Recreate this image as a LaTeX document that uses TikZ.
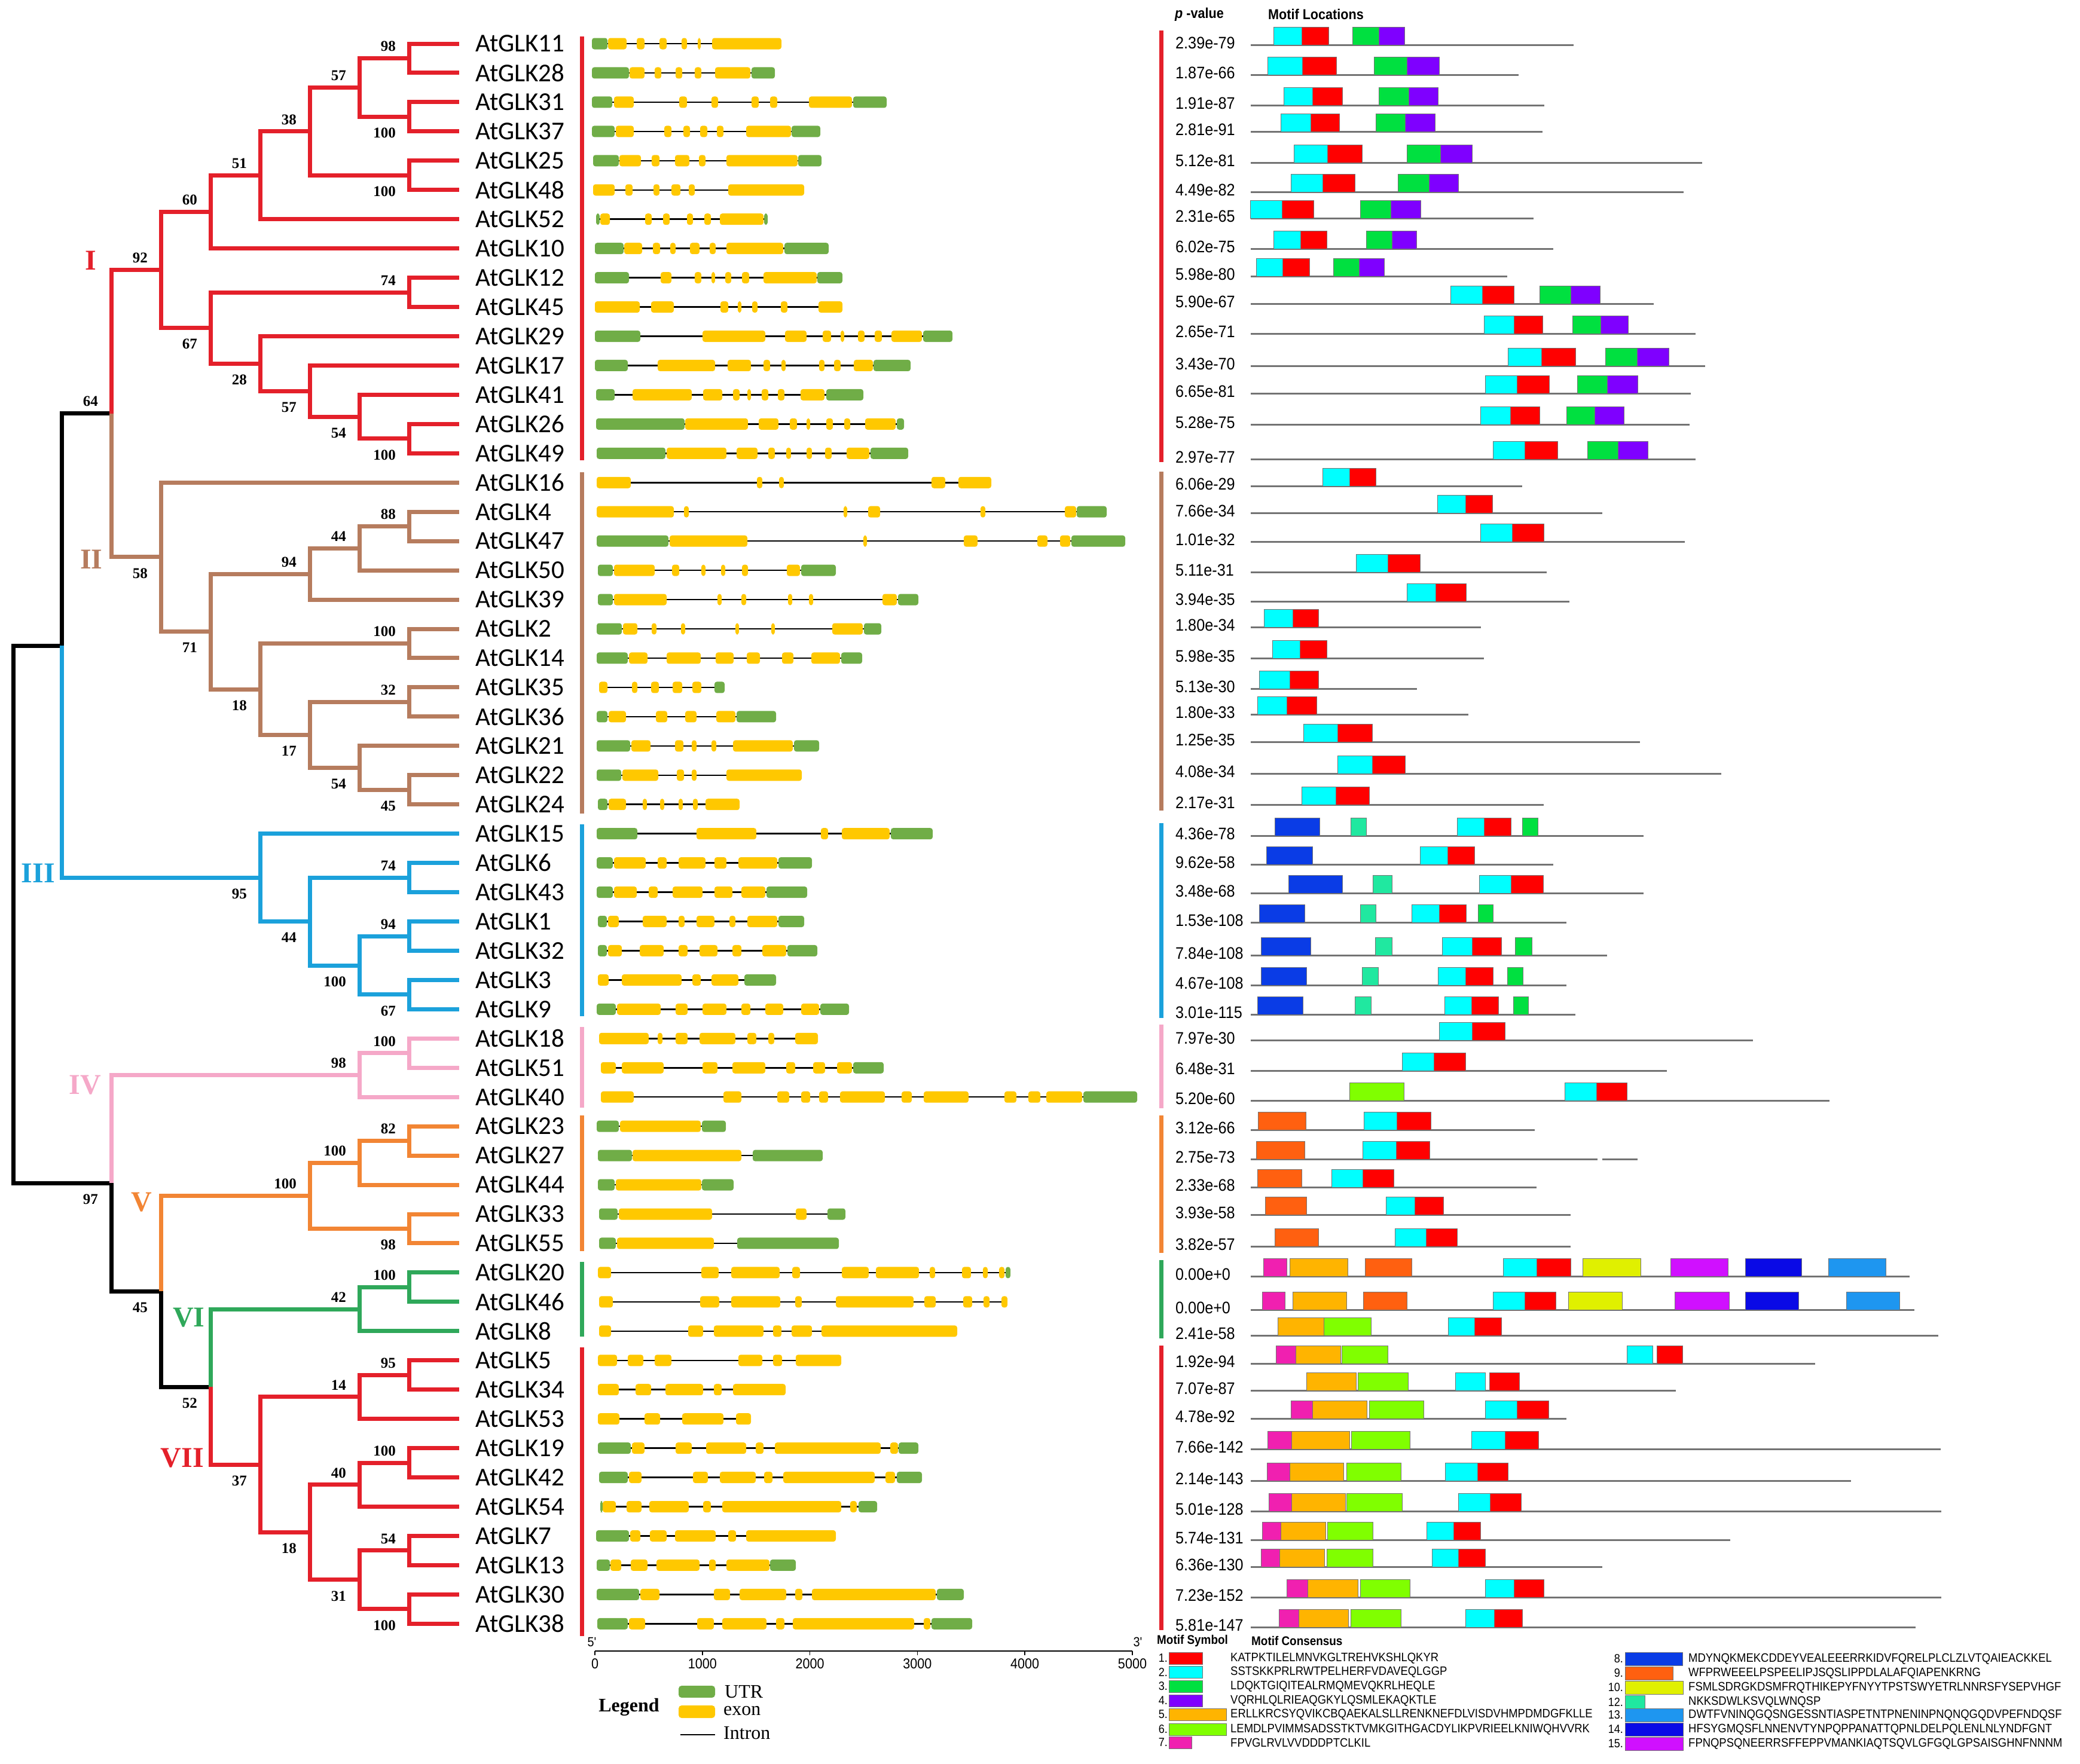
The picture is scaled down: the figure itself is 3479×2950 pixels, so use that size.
\documentclass[tikz,border=0pt]{standalone}
\usepackage{fontspec}
\setmainfont{Liberation Serif}
\newfontfamily\carl{Carlito}
\newfontfamily\nar[FakeStretch=0.9]{Liberation Sans}
\usetikzlibrary{calc}
\definecolor{cI}{HTML}{E4202A}
\definecolor{cII}{HTML}{B67C5E}
\definecolor{cIII}{HTML}{1BA1DB}
\definecolor{cIV}{HTML}{F5A8C8}
\definecolor{cV}{HTML}{F28534}
\definecolor{cVI}{HTML}{2FA85A}
\definecolor{U}{HTML}{70AD47}
\definecolor{E}{HTML}{FFC800}
\definecolor{m1}{HTML}{FF0000}
\definecolor{m2}{HTML}{00FFFF}
\definecolor{m3}{HTML}{00E040}
\definecolor{m4}{HTML}{7F00FF}
\definecolor{m5}{HTML}{FFB400}
\definecolor{m6}{HTML}{80FF00}
\definecolor{m7}{HTML}{F020B0}
\definecolor{m8}{HTML}{0A3CE6}
\definecolor{m9}{HTML}{FF6010}
\definecolor{m10}{HTML}{E0F000}
\definecolor{m12}{HTML}{20E8A0}
\definecolor{m13}{HTML}{1E96F0}
\definecolor{m14}{HTML}{0A0AE6}
\definecolor{m15}{HTML}{D010FF}
\newcommand\gs[4]{%
  \draw[intr] (#2,{73+48.95*#1}) -- (#3,{73+48.95*#1});
  \foreach \ty/\xa/\xb in {#4}{\fill[fill=\ty, rounded corners=4pt] (\xa,{73+48.95*#1-9.5}) rectangle (\xb,{73+48.95*#1+9.5});}}
\newcommand\mr[4]{%
  \draw[mline] (2092,#1) -- (#2,#1);
  \node[pv] at (1966,{#1-3}) {#3};
  \foreach \cc/\xa/\xb in {#4}{\filldraw[fill=\cc, mbox] (\xa,{#1-30}) rectangle (\xb,#1);}}
\newcommand\bsu[2]{\node[bs,anchor=east] at ($(#1)+(-22,-20)$) {#2};}
\newcommand\bsd[2]{\node[bs,anchor=east] at ($(#1)+(-22,27)$) {#2};}
\begin{document}
\begin{tikzpicture}[x=1pt,y=-1pt,
  br/.style={line width=7pt},
  bs/.style={font=\bfseries\fontsize{25}{25}\selectfont, inner sep=0pt},
  gl/.style={font=\carl\fontsize{43}{43}\selectfont, anchor=west, inner sep=0pt},
  cl/.style={font=\bfseries\fontsize{48}{48}\selectfont, inner sep=0pt},
  intr/.style={line width=2.5pt, black},
  mbox/.style={draw=black!55, line width=1pt},
  mline/.style={line width=3pt, color=black!55},
  pv/.style={font=\nar\fontsize{28}{28}\selectfont, inner sep=0pt, anchor=west},
  lt/.style={font=\nar\fontsize{20.5}{20.5}\selectfont, inner sep=0pt, anchor=west},
  bar/.style={line width=7pt}]
\useasboundingbox (0,0) rectangle (3479,2950);
\fill[white] (0,0) rectangle (3479,2950);
% ---------- tree coordinates
\foreach \i in {0,...,54}{\coordinate (L\i) at (768,{73+48.95*\i});}
\coordinate (root) at (22,1529.7);
\coordinate (nA) at (103,1080);
\coordinate (n64) at (186,691.8);
\coordinate (n92) at (269,451.6);
\coordinate (n60) at (352,354.5);
\coordinate (n51) at (435,293.3);
\coordinate (n38) at (518,219.9);
\coordinate (n57a) at (601,146.4);
\coordinate (n98a) at (684,97.5);
\coordinate (n100a) at (684,195.4);
\coordinate (n100b) at (684,293.3);
\coordinate (n67) at (352,548.75);
\coordinate (n74a) at (684,489.1);
\coordinate (n28) at (435,608.4);
\coordinate (n57b) at (518,654.3);
\coordinate (n54a) at (601,697.1);
\coordinate (n100c) at (684,733.8);
\coordinate (n58) at (269,931.9);
\coordinate (n71) at (352,1056.6);
\coordinate (n94a) at (518,960.2);
\coordinate (n44a) at (601,917.4);
\coordinate (n88) at (684,880.7);
\coordinate (n18a) at (435,1153);
\coordinate (n100d) at (684,1076.5);
\coordinate (n17) at (518,1229.5);
\coordinate (n32) at (684,1174.4);
\coordinate (n54b) at (601,1284.5);
\coordinate (n45a) at (684,1321.2);
\coordinate (n95) at (435,1468.1);
\coordinate (n44b) at (518,1541.5);
\coordinate (n74b) at (684,1468.1);
\coordinate (n100e) at (601,1615);
\coordinate (n94b) at (684,1566);
\coordinate (n67b) at (684,1663.9);
\coordinate (n97) at (186,1979.4);
\coordinate (n98b) at (601,1798.5);
\coordinate (n100f) at (684,1761.8);
\coordinate (n45b) at (269,2160.3);
\coordinate (n100h) at (518,2000.4);
\coordinate (n100g) at (601,1945.3);
\coordinate (n82) at (684,1908.6);
\coordinate (n98c) at (684,2055.5);
\coordinate (n52) at (352,2320.1);
\coordinate (n42) at (601,2190.1);
\coordinate (n100i) at (684,2153.4);
\coordinate (n37) at (435,2450.1);
\coordinate (n14) at (601,2336.9);
\coordinate (n95b) at (684,2300.2);
\coordinate (n18b) at (518,2563.4);
\coordinate (n40) at (601,2483.8);
\coordinate (n100j) at (684,2447.1);
\coordinate (n31) at (601,2642.9);
\coordinate (n54c) at (684,2593.9);
\coordinate (n100k) at (684,2691.8);
% ---------- tree branches
\draw[br,black] (root) |- (nA) (root) |- (n97) (nA) |- (n64) (n97) |- (n45b) (n45b) |- (n52);
\draw[br,cI] (n64) |- (n92) (n92) |- (n60) (n92) |- (n67) (n60) |- (n51) (n60) |- (L7)
  (n51) |- (n38) (n51) |- (L6) (n38) |- (n57a) (n38) |- (n100b) (n57a) |- (n98a) (n57a) |- (n100a)
  (n98a) |- (L0) (n98a) |- (L1) (n100a) |- (L2) (n100a) |- (L3) (n100b) |- (L4) (n100b) |- (L5)
  (n67) |- (n74a) (n67) |- (n28) (n74a) |- (L8) (n74a) |- (L9) (n28) |- (L10) (n28) |- (n57b)
  (n57b) |- (L11) (n57b) |- (n54a) (n54a) |- (L12) (n54a) |- (n100c) (n100c) |- (L13) (n100c) |- (L14);
\draw[br,cII] (n64) |- (n58) (n58) |- (L15) (n58) |- (n71) (n71) |- (n94a) (n71) |- (n18a)
  (n94a) |- (n44a) (n94a) |- (L19) (n44a) |- (n88) (n44a) |- (L18) (n88) |- (L16) (n88) |- (L17)
  (n18a) |- (n100d) (n18a) |- (n17) (n100d) |- (L20) (n100d) |- (L21) (n17) |- (n32) (n17) |- (n54b)
  (n32) |- (L22) (n32) |- (L23) (n54b) |- (L24) (n54b) |- (n45a) (n45a) |- (L25) (n45a) |- (L26);
\draw[br,cIII] (nA) |- (n95) (n95) |- (L27) (n95) |- (n44b) (n44b) |- (n74b) (n44b) |- (n100e)
  (n74b) |- (L28) (n74b) |- (L29) (n100e) |- (n94b) (n100e) |- (n67b) (n94b) |- (L30) (n94b) |- (L31)
  (n67b) |- (L32) (n67b) |- (L33);
\draw[br,cIV] (n97) |- (n98b) (n98b) |- (n100f) (n98b) |- (L36) (n100f) |- (L34) (n100f) |- (L35);
\draw[br,cV] (n45b) |- (n100h) (n100h) |- (n100g) (n100h) |- (n98c) (n100g) |- (n82) (n100g) |- (L39)
  (n82) |- (L37) (n82) |- (L38) (n98c) |- (L40) (n98c) |- (L41);
\draw[br,cVI] (n52) |- (n42) (n42) |- (n100i) (n42) |- (L44) (n100i) |- (L42) (n100i) |- (L43);
\draw[br,cI] (n52) |- (n37) (n37) |- (n14) (n37) |- (n18b) (n14) |- (n95b) (n14) |- (L47)
  (n95b) |- (L45) (n95b) |- (L46) (n18b) |- (n40) (n18b) |- (n31) (n40) |- (n100j) (n40) |- (L50)
  (n100j) |- (L48) (n100j) |- (L49) (n31) |- (n54c) (n31) |- (n100k) (n54c) |- (L51) (n54c) |- (L52)
  (n100k) |- (L53) (n100k) |- (L54);
% ---------- bootstrap values
\bsu{n98a}{98}\bsu{n57a}{57}\bsu{n38}{38}\bsu{n51}{51}\bsu{n60}{60}\bsu{n92}{92}\bsu{n64}{64}
\bsu{n74a}{74}\bsu{n88}{88}\bsu{n44a}{44}\bsu{n94a}{94}\bsu{n100d}{100}\bsu{n32}{32}
\bsu{n74b}{74}\bsu{n94b}{94}\bsu{n100f}{100}\bsu{n98b}{98}\bsu{n82}{82}\bsu{n100g}{100}
\bsu{n100h}{100}\bsu{n100i}{100}\bsu{n42}{42}\bsu{n95b}{95}\bsu{n14}{14}\bsu{n40}{40}
\bsu{n100j}{100}\bsu{n54c}{54}
\bsd{n100a}{100}\bsd{n100b}{100}\bsd{n67}{67}\bsd{n28}{28}\bsd{n57b}{57}\bsd{n54a}{54}
\bsd{n100c}{100}\bsd{n58}{58}\bsd{n71}{71}\bsd{n18a}{18}\bsd{n17}{17}\bsd{n54b}{54}
\bsd{n45a}{45}\bsd{n95}{95}\bsd{n44b}{44}\bsd{n100e}{100}\bsd{n67b}{67}\bsd{n97}{97}
\bsd{n45b}{45}\bsd{n98c}{98}\bsd{n52}{52}\bsd{n37}{37}\bsd{n18b}{18}\bsd{n31}{31}\bsd{n100k}{100}
% ---------- clade labels
\node[cl,text=cI] (lI) at (152,436) {I};
\node[cl,text=cII] (lII) at (153,936) {II};
\node[cl,text=cIII] (lIII) at (64,1461) {III};
\node[cl,text=cIV] (lIV) at (142,1815) {IV};
\node[cl,text=cV] (lV) at (237,2011) {V};
\node[cl,text=cVI] (lVI) at (316,2204) {VI};
\node[cl,text=cI] (lVII) at (305,2439) {VII};
% ---------- gene names
\foreach \n [count=\i from 0] in {11,28,31,37,25,48,52,10,12,45,29,17,41,26,49,16,4,47,50,39,2,14,35,36,21,22,24,15,6,43,1,32,3,9,18,51,40,23,27,44,33,55,20,46,8,5,34,53,19,42,54,7,13,30,38}
  {\node[gl] (g\n) at (795,{73+48.95*\i}) {AtGLK\n};}
% ---------- clade bars
\foreach \c/\a/\b/\p/\q in {cI/61/770/51/773, cII/790/1361/789/1356, cIII/1379/1700/1377/1703, cIV/1718/1853/1714/1854, cV/1866/2093/1866/2096, cVI/2111/2236/2108/2239, cI/2254/2737/2251/2727}
  {\draw[bar,\c] (973,\a) -- (973,\b); \draw[bar,\c] (1942,\p) -- (1942,\q);}
% ---------- gene structures
\gs{0}{990}{1307}{U/990/1016, E/1017/1048, E/1065/1078, E/1103/1115, E/1140/1149, E/1167/1172, E/1191/1307}
\gs{1}{990}{1296}{U/990/1052, E/1053/1078, E/1095/1106, E/1130/1141, E/1162/1173, E/1196/1255, U/1257/1296}
\gs{2}{990}{1483}{U/990/1024, E/1027/1060, E/1136/1149, E/1190/1201, E/1257/1269, E/1288/1300, E/1353/1425, U/1427/1483}
\gs{3}{990}{1372}{U/990/1028, E/1030/1060, E/1111/1123, E/1143/1154, E/1171/1183, E/1199/1210, E/1248/1323, U/1324/1372}
\gs{4}{992}{1374}{U/992/1035, E/1036/1072, E/1090/1103, E/1129/1153, E/1169/1180, E/1215/1334, U/1335/1374}
\gs{5}{992}{1345}{E/992/1028, E/1046/1058, E/1093/1103, E/1123/1138, E/1152/1162, E/1218/1345}
\gs{6}{997}{1284}{U/997/1003, E/1004/1020, E/1079/1090, E/1109/1120, E/1149/1159, E/1178/1189, E/1204/1277, U/1278/1284}
\gs{7}{995}{1386}{U/995/1043, E/1044/1074, E/1092/1104, E/1121/1130, E/1154/1170, E/1187/1197, E/1215/1310, U/1312/1386}
\gs{8}{995}{1409}{U/995/1052, E/1105/1123, E/1162/1173, E/1190/1196, E/1213/1223, E/1241/1253, E/1277/1366, U/1367/1409}
\gs{9}{995}{1409}{E/995/1070, E/1089/1127, E/1205/1218, E/1234/1240, E/1258/1267, E/1306/1317, E/1369/1409}
\gs{10}{995}{1593}{U/995/1071, E/1175/1280, E/1313/1349, E/1376/1390, E/1406/1412, E/1435/1446, E/1463/1475, E/1491/1542, U/1544/1593}
\gs{11}{995}{1523}{U/995/1050, E/1100/1196, E/1217/1256, E/1277/1288, E/1307/1314, E/1370/1379, E/1395/1406, E/1428/1460, U/1461/1523}
\gs{12}{997}{1444}{U/997/1028, E/1058/1157, E/1176/1208, E/1226/1237, E/1250/1256, E/1274/1285, E/1301/1312, E/1339/1379, U/1382/1444}
\gs{13}{997}{1512}{U/997/1145, E/1146/1251, E/1269/1302, E/1321/1333, E/1349/1355, E/1382/1393, E/1412/1422, E/1447/1498, U/1500/1512}
\gs{14}{998}{1519}{U/998/1113, E/1115/1215, E/1232/1267, E/1285/1296, E/1315/1323, E/1349/1358, E/1380/1391, E/1416/1454, U/1456/1519}
\gs{15}{998}{1658}{E/998/1055, E/1266/1275, E/1303/1311, E/1558/1581, E/1603/1658}
\gs{16}{998}{1851}{E/998/1127, E/1144/1152, E/1411/1417, E/1452/1472, E/1640/1648, E/1781/1800, U/1801/1851}
\gs{17}{998}{1882}{U/998/1118, E/1120/1250, E/1444/1450, E/1612/1635, E/1735/1752, E/1773/1790, U/1792/1882}
\gs{18}{1000}{1398}{U/1000/1025, E/1027/1095, E/1124/1136, E/1173/1180, E/1206/1213, E/1241/1251, E/1316/1338, U/1340/1398}
\gs{19}{1000}{1536}{U/1000/1025, E/1027/1115, E/1200/1207, E/1240/1248, E/1318/1325, E/1353/1360, E/1476/1500, U/1502/1536}
\gs{20}{998}{1474}{U/998/1040, E/1042/1066, E/1090/1098, E/1139/1146, E/1230/1236, E/1290/1296, E/1392/1443, U/1445/1474}
\gs{21}{998}{1442}{U/998/1050, E/1052/1083, E/1115/1172, E/1197/1227, E/1249/1271, E/1308/1327, E/1357/1405, U/1407/1442}
\gs{22}{1002}{1212}{E/1002/1016, E/1057/1066, E/1089/1102, E/1125/1141, E/1158/1173, U/1195/1212}
\gs{23}{998}{1298}{U/998/1016, E/1018/1047, E/1097/1116, E/1146/1165, E/1198/1230, U/1232/1298}
\gs{24}{998}{1370}{U/998/1054, E/1056/1088, E/1129/1143, E/1157/1165, E/1190/1198, E/1226/1326, U/1328/1370}
\gs{25}{998}{1341}{U/998/1039, E/1041/1101, E/1132/1144, E/1157/1165, E/1215/1341}
\gs{26}{1000}{1237}{U/1000/1016, E/1018/1047, E/1075/1082, E/1104/1111, E/1135/1142, E/1159/1167, E/1180/1237}
\gs{27}{998}{1560}{U/998/1066, E/1165/1265, E/1373/1385, E/1408/1488, U/1490/1560}
\gs{28}{998}{1358}{U/998/1025, E/1027/1080, E/1100/1115, E/1135/1180, E/1195/1215, E/1235/1300, U/1302/1358}
\gs{29}{998}{1350}{U/998/1025, E/1027/1065, E/1085/1100, E/1125/1175, E/1195/1225, E/1240/1280, U/1282/1350}
\gs{30}{1000}{1345}{U/1000/1015, E/1017/1035, E/1075/1115, E/1135/1145, E/1165/1195, E/1220/1230, E/1250/1300, U/1302/1345}
\gs{31}{1000}{1367}{U/1000/1015, E/1017/1040, E/1070/1110, E/1135/1150, E/1170/1200, E/1225/1240, E/1275/1315, U/1317/1367}
\gs{32}{1000}{1298}{E/1000/1018, E/1040/1140, E/1158/1172, E/1190/1235, U/1245/1298}
\gs{33}{998}{1420}{U/998/1030, E/1032/1105, E/1130/1150, E/1175/1215, E/1240/1255, E/1280/1310, E/1340/1370, U/1372/1420}
\gs{34}{1002}{1368}{E/1002/1085, E/1100/1108, E/1130/1150, E/1170/1230, E/1250/1265, E/1285/1295, E/1330/1368}
\gs{35}{1005}{1478}{E/1005/1030, E/1040/1110, E/1175/1200, E/1225/1280, E/1315/1330, E/1360/1380, E/1400/1425, U/1427/1478}
\gs{36}{1005}{1902}{E/1005/1060, E/1210/1240, E/1300/1320, E/1340/1355, E/1370/1385, E/1405/1480, E/1508/1525, E/1545/1620, E/1680/1700, E/1720/1740, E/1750/1810, U/1812/1902}
\gs{37}{998}{1214}{U/998/1035, E/1037/1172, U/1174/1214}
\gs{38}{1000}{1376}{U/1000/1057, E/1058/1240, U/1259/1376}
\gs{39}{1000}{1227}{U/1000/1028, E/1030/1173, U/1174/1227}
\gs{40}{1002}{1414}{U/1002/1033, E/1035/1191, E/1331/1349, U/1384/1414}
\gs{41}{1002}{1403}{U/1002/1030, E/1032/1194, U/1233/1403}
\gs{42}{1000}{1690}{E/1000/1022, E/1173/1202, E/1223/1304, E/1325/1338, E/1408/1453, E/1465/1537, E/1555/1564, E/1609/1624, E/1644/1652, E/1671/1680, U/1682/1690}
\gs{43}{1002}{1685}{E/1002/1025, E/1171/1203, E/1223/1305, E/1330/1341, E/1398/1528, E/1546/1565, E/1611/1626, E/1645/1655, E/1675/1685}
\gs{44}{1002}{1601}{E/1002/1022, E/1151/1176, E/1194/1277, E/1293/1307, E/1324/1358, E/1374/1601}
\gs{45}{1000}{1407}{E/1000/1032, E/1050/1076, E/1095/1123, E/1235/1275, E/1293/1308, E/1331/1407}
\gs{46}{1000}{1314}{E/1000/1035, E/1063/1089, E/1113/1176, E/1194/1207, E/1226/1314}
\gs{47}{1000}{1256}{E/1000/1036, E/1078/1104, E/1141/1210, E/1231/1256}
\gs{48}{1000}{1536}{U/1000/1055, E/1057/1078, E/1130/1157, E/1181/1248, E/1264/1277, E/1296/1473, E/1489/1502, U/1503/1536}
\gs{49}{1002}{1542}{U/1002/1050, E/1052/1073, E/1159/1184, E/1204/1264, E/1278/1292, E/1310/1463, E/1481/1497, U/1500/1542}
\gs{50}{1004}{1467}{U/1004/1008, E/1008/1030, E/1048/1073, E/1086/1152, E/1176/1189, E/1208/1407, E/1422/1433, U/1436/1467}
\gs{51}{997}{1398}{U/997/1052, E/1054/1071, E/1087/1115, E/1129/1197, E/1218/1231, E/1248/1398}
\gs{52}{998}{1331}{U/998/1020, E/1021/1039, E/1055/1083, E/1098/1170, E/1186/1197, E/1215/1287, U/1288/1331}
\gs{53}{998}{1612}{U/998/1069, E/1071/1103, E/1194/1221, E/1237/1315, E/1330/1342, E/1358/1565, U/1567/1612}
\gs{54}{999}{1626}{U/999/1050, E/1052/1079, E/1166/1194, E/1208/1282, E/1298/1312, E/1326/1529, E/1545/1556, U/1558/1626}
% ---------- scale axis
\draw[line width=2.5pt] (995,2762) coordinate (ax0) -- (1894,2762) coordinate (ax1);
\foreach \k/\lab in {0/0,1/1000,2/2000,3/3000,4/4000,5/5000}{
  \draw[line width=1.5pt] ({995+179.8*\k},2762) -- ({995+179.8*\k},2769);
  \node[font=\nar\fontsize{24}{24}\selectfont, inner sep=0pt] at ({995+179.8*\k},2783) {\lab};}
\node[font=\nar\fontsize{22}{22}\selectfont, inner sep=0pt] (five) at (990,2747) {5'};
\node[font=\nar\fontsize{22}{22}\selectfont, inner sep=0pt] (three) at (1903,2747) {3'};
% ---------- structure legend
\node[font=\bfseries\fontsize{32}{32}\selectfont, inner sep=0pt] (leg) at (1052,2856) {Legend};
\fill[U, rounded corners=5pt] (1135,2820) rectangle (1196,2840);
\node[anchor=west, font=\fontsize{32}{32}\selectfont, inner sep=0pt] (lutr) at (1212,2830) {UTR};
\fill[E, rounded corners=5pt] (1135,2853) rectangle (1196,2874);
\node[anchor=west, font=\fontsize{32}{32}\selectfont, inner sep=0pt] (lexon) at (1210,2862) {exon};
\draw[line width=2pt] (1138,2902) -- (1196,2902);
\node[anchor=west, font=\fontsize{32}{32}\selectfont, inner sep=0pt] (lintron) at (1210,2899) {Intron};
% ---------- motif headers
\node[anchor=west, font=\nar\bfseries\fontsize{24}{24}\selectfont, inner sep=0pt] (hp) at (1965,24) {\textit{p} -value};
\node[anchor=west, font=\nar\bfseries\fontsize{24}{24}\selectfont, inner sep=0pt] (hm) at (2121,24) {Motif Locations};
% ---------- motif rows
\mr{75}{2632}{2.39e-79}{m2/2130/2177, m1/2177/2222, m3/2262/2306, m4/2306/2349}
\mr{125}{2540}{1.87e-66}{m2/2120/2178, m1/2178/2235, m3/2298/2353, m4/2353/2407}
\mr{176}{2583}{1.91e-87}{m2/2147/2195, m1/2195/2245, m3/2306/2356, m4/2356/2405}
\mr{220}{2580}{2.81e-91}{m2/2142/2192, m1/2192/2240, m3/2301/2350, m4/2350/2400}
\mr{272}{2847}{5.12e-81}{m2/2164/2220, m1/2220/2278, m3/2353/2409, m4/2409/2462}
\mr{321}{2816}{4.49e-82}{m2/2159/2212, m1/2212/2266, m3/2338/2390, m4/2390/2439}
\mr{365}{2565}{2.31e-65}{m2/2091/2144, m1/2144/2197, m3/2275/2326, m4/2326/2376}
\mr{416}{2598}{6.02e-75}{m2/2130/2175, m1/2175/2219, m3/2285/2328, m4/2328/2369}
\mr{462}{2521}{5.98e-80}{m2/2101/2145, m1/2145/2190, m3/2230/2273, m4/2273/2315}
\mr{508}{2766}{5.90e-67}{m2/2426/2479, m1/2479/2532, m3/2575/2627, m4/2627/2676}
\mr{558}{2836}{2.65e-71}{m2/2482/2532, m1/2532/2580, m3/2630/2677, m4/2677/2723}
\mr{612}{2852}{3.43e-70}{m2/2522/2578, m1/2578/2635, m3/2685/2738, m4/2738/2791}
\mr{658}{2828}{6.65e-81}{m2/2484/2537, m1/2537/2591, m3/2638/2688, m4/2688/2739}
\mr{710}{2826}{5.28e-75}{m2/2476/2526, m1/2526/2575, m3/2620/2667, m4/2667/2716}
\mr{768}{2836}{2.97e-77}{m2/2497/2550, m1/2550/2605, m3/2655/2706, m4/2706/2756}
\mr{813}{2546}{6.06e-29}{m2/2212/2257, m1/2257/2301}
\mr{858}{2680}{7.66e-34}{m2/2404/2451, m1/2451/2496}
\mr{906}{2818}{1.01e-32}{m2/2476/2529, m1/2529/2582}
\mr{957}{2587}{5.11e-31}{m2/2268/2321, m1/2321/2375}
\mr{1006}{2625}{3.94e-35}{m2/2353/2401, m1/2401/2452}
\mr{1049}{2477}{1.80e-34}{m2/2114/2162, m1/2162/2205}
\mr{1101}{2482}{5.98e-35}{m2/2128/2174, m1/2174/2219}
\mr{1152}{2370}{5.13e-30}{m2/2106/2157, m1/2157/2205}
\mr{1195}{2456}{1.80e-33}{m2/2103/2152, m1/2152/2202}
\mr{1241}{2743}{1.25e-35}{m2/2180/2237, m1/2237/2295}
\mr{1294}{2879}{4.08e-34}{m2/2237/2295, m1/2295/2350}
\mr{1346}{2582}{2.17e-31}{m2/2177/2234, m1/2234/2290}
\mr{1398}{2749}{4.36e-78}{m8/2132/2207, m12/2259/2285, m2/2437/2482, m1/2482/2527, m3/2546/2572}
\mr{1446}{2598}{9.62e-58}{m8/2118/2195, m2/2375/2421, m1/2421/2466}
\mr{1494}{2749}{3.48e-68}{m8/2155/2245, m12/2296/2328, m2/2474/2527, m1/2527/2581}
\mr{1543}{2620}{1.53e-108}{m8/2106/2182, m12/2275/2301, m2/2361/2407, m1/2407/2452, m3/2472/2497}
\mr{1598}{2688}{7.84e-108}{m8/2109/2192, m12/2300/2328, m2/2412/2462, m1/2462/2511, m3/2534/2562}
\mr{1648}{2620}{4.67e-108}{m8/2109/2185, m12/2278/2305, m2/2405/2451, m1/2451/2497, m3/2521/2547}
\mr{1697}{2635}{3.01e-115}{m8/2103/2179, m12/2266/2293, m2/2416/2461, m1/2461/2506, m3/2531/2556}
\mr{1740}{2932}{7.97e-30}{m2/2407/2462, m1/2462/2517}
\mr{1791}{2788}{6.48e-31}{m2/2345/2398, m1/2398/2451}
\mr{1841}{3060}{5.20e-60}{m6/2257/2348, m2/2617/2670, m1/2670/2721}
\mr{1890}{2567}{3.12e-66}{m9/2104/2184, m2/2281/2336, m1/2336/2393}
\mr{1939}{2739}{2.75e-73}{m9/2101/2182, m2/2279/2335, m1/2335/2391}
\fill[white] (2672,1934) rectangle (2680,1944);
\mr{1986}{2570}{2.33e-68}{m9/2103/2177, m2/2227/2279, m1/2279/2331}
\mr{2032}{2627}{3.93e-58}{m9/2116/2185, m2/2318/2366, m1/2366/2414}
\mr{2085}{2627}{3.82e-57}{m9/2132/2205, m2/2333/2385, m1/2385/2437}
\mr{2135}{3194}{0.00e+0}{m7/2113/2152, m5/2157/2254, m9/2283/2361, m2/2514/2570, m1/2570/2627, m10/2647/2744, m15/2794/2890, m14/2919/3013, m13/3058/3154}
\mr{2191}{3202}{0.00e+0}{m7/2111/2149, m5/2162/2252, m9/2280/2353, m2/2497/2550, m1/2550/2602, m10/2623/2713, m15/2801/2892, m14/2919/3008, m13/3088/3177}
\mr{2234}{3242}{2.41e-58}{m5/2137/2214, m6/2214/2293, m2/2422/2466, m1/2466/2511}
\mr{2281}{3036}{1.92e-94}{m7/2134/2167, m5/2167/2242, m6/2244/2321, m2/2721/2764, m1/2771/2814}
\mr{2326}{2803}{7.07e-87}{m5/2185/2268, m6/2271/2355, m2/2434/2484, m1/2491/2541}
\mr{2373}{2620}{4.78e-92}{m7/2159/2195, m5/2195/2286, m6/2290/2381, m2/2484/2537, m1/2537/2590}
\mr{2424}{3246}{7.66e-142}{m7/2120/2160, m5/2160/2257, m6/2260/2358, m2/2461/2517, m1/2517/2573}
\mr{2477}{3096}{2.14e-143}{m7/2119/2157, m5/2157/2247, m6/2252/2343, m2/2417/2471, m1/2471/2522}
\mr{2528}{3247}{5.01e-128}{m7/2122/2160, m5/2160/2250, m6/2252/2345, m2/2439/2492, m1/2492/2544}
\mr{2576}{2894}{5.74e-131}{m7/2111/2142, m5/2142/2217, m6/2220/2296, m2/2386/2431, m1/2431/2476}
\mr{2621}{2680}{6.36e-130}{m7/2109/2140, m5/2140/2215, m6/2219/2296, m2/2395/2439, m1/2439/2484}
\mr{2672}{3247}{7.23e-152}{m7/2152/2187, m5/2187/2271, m6/2275/2358, m2/2484/2532, m1/2532/2582}
\mr{2722}{3204}{5.81e-147}{m7/2139/2172, m5/2172/2255, m6/2259/2343, m2/2451/2499, m1/2499/2546}
% ---------- motif legend
\node[anchor=west, font=\nar\bfseries\fontsize{21}{21}\selectfont, inner sep=0pt] (hs) at (1935,2745) {Motif Symbol};
\node[anchor=west, font=\nar\bfseries\fontsize{21}{21}\selectfont, inner sep=0pt] (hc) at (2093,2745) {Motif Consensus};
\foreach \k/\cc/\w/\yy/\txt in {1/m1/2011/2774/KATPKTILELMNVKGLTREHVKSHLQKYR, 2/m2/2011/2797/SSTSKKPRLRWTPELHERFVDAVEQLGGP, 3/m3/2011/2821/LDQKTGIQITEALRMQMEVQKRLHEQLE, 4/m4/2011/2845/VQRHLQLRIEAQGKYLQSMLEKAQKTLE, 5/m5/2051/2868/ERLLKRCSYQVIKCBQAEKALSLLRENKNEFDLVISDVHMPDMDGFKLLE, 6/m6/2051/2893/LEMDLPVIMMSADSSTKTVMKGITHGACDYLIKPVRIEELKNIWQHVVRK, 7/m7/1993/2915/FPVGLRVLVVDDDPTCLKIL}{
  \filldraw[fill=\cc, mbox] (1955,{\yy-10}) rectangle (\w,{\yy+10});
  \node[anchor=east, font=\nar\fontsize{20}{20}\selectfont, inner sep=0pt] at (1953,\yy) {\k.};
  \node[lt] at (2058,\yy) {\txt};}
\foreach \k/\cc/\w/\yy/\txt in {8/m8/2814/2775/MDYNQKMEKCDDEYVEALEEERRKIDVFQRELPLCLZLVTQAIEACKKEL, 9/m9/2798/2799/WFPRWEEELPSPEELIPJSQSLIPPDLALAFQIAPENKRNG, 10/m10/2815/2823/FSMLSDRGKDSMFRQTHIKEPYFNYYTPSTSWYETRLNNRSFYSEPVHGF, 12/m12/2751/2847/NKKSDWLKSVQLWNQSP, 13/m13/2815/2869/DWTFVNINQGQSNGESSNTIASPETNTPNENINPNQNQGQDVPEFNDQSF, 14/m14/2815/2893/HFSYGMQSFLNNENVTYNPQPPANATTQPNLDELPQLENLNLYNDFGNT, 15/m15/2815/2917/FPNQPSQNEERRSFFEPPVMANKIAQTSQVLGFGQLGPSAISGHNFNNNM}{
  \filldraw[fill=\cc, mbox] (2718,{\yy-11}) rectangle (\w,{\yy+11});
  \node[anchor=east, font=\nar\fontsize{20}{20}\selectfont, inner sep=0pt] at (2715,\yy) {\k.};
  \node[lt] at (2824,\yy) {\txt};}
\end{tikzpicture}
\end{document}
